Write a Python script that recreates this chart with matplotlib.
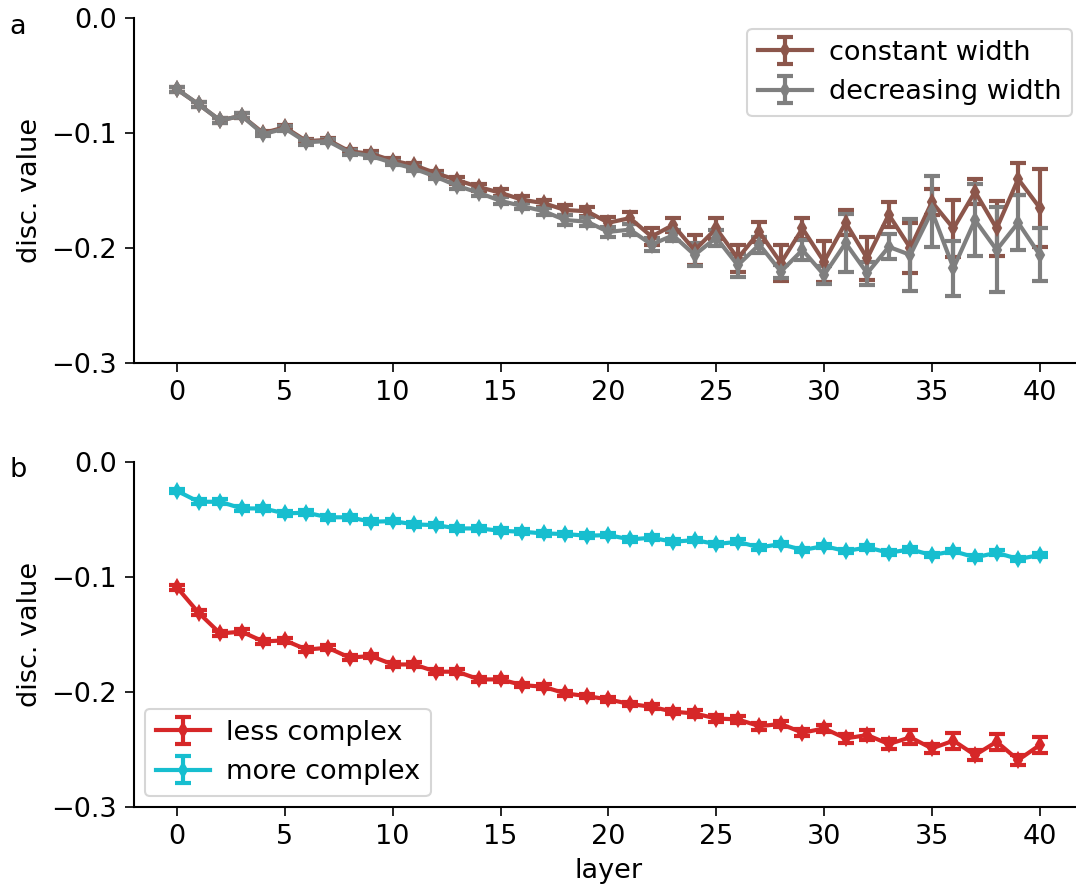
import matplotlib.pyplot as plt
import numpy as np

# layers
layers = np.arange(41)

# panel a
const_width = [-0.062, -0.075, -0.089, -0.085, -0.100, -0.095, -0.107, -0.106, -0.116, -0.118,
               -0.124, -0.128, -0.135, -0.141, -0.147, -0.152, -0.158, -0.161, -0.167, -0.168,
               -0.178, -0.174, -0.190, -0.180, -0.202, -0.183, -0.209, -0.186, -0.213, -0.183,
               -0.212, -0.178, -0.209, -0.171, -0.200, -0.160, -0.183, -0.151, -0.183, -0.140,
               -0.165]
const_err = [0.002, 0.002, 0.002, 0.002, 0.002, 0.002, 0.002, 0.002, 0.002, 0.002,
             0.002, 0.002, 0.002, 0.003, 0.003, 0.003, 0.003, 0.003, 0.004, 0.004,
             0.005, 0.005, 0.007, 0.006, 0.013, 0.009, 0.012, 0.009, 0.016, 0.009,
             0.018, 0.011, 0.019, 0.011, 0.022, 0.011, 0.025, 0.011, 0.024, 0.014,
             0.034]
decr_width = [-0.062, -0.075, -0.089, -0.085, -0.101, -0.096, -0.108, -0.107, -0.117, -0.120,
              -0.126, -0.131, -0.138, -0.146, -0.152, -0.159, -0.1635, -0.168, -0.1757, -0.177,
              -0.186, -0.184, -0.197, -0.189, -0.206, -0.191, -0.215, -0.197, -0.2205, -0.2017,
              -0.2235, -0.1957, -0.222, -0.199, -0.206, -0.168, -0.2175, -0.1757, -0.2017, -0.178,
              -0.206]
decr_err = [0.002, 0.002, 0.002, 0.002, 0.002, 0.002, 0.002, 0.002, 0.002, 0.002,
            0.002, 0.002, 0.002, 0.003, 0.003, 0.003, 0.003, 0.003, 0.004, 0.004,
            0.004, 0.005, 0.006, 0.005, 0.010, 0.007, 0.010, 0.007, 0.006, 0.009,
            0.008, 0.025, 0.010, 0.011, 0.031, 0.031, 0.024, 0.031, 0.037, 0.024,
            0.023]

# panel b
less_complex = [-0.109, -0.131, -0.149, -0.1475, -0.156, -0.155, -0.163, -0.1615, -0.170, -0.1687,
                -0.176, -0.176, -0.1823, -0.1823, -0.189, -0.189, -0.1939, -0.1954, -0.2012, -0.2035,
                -0.2064, -0.2104, -0.2128, -0.2171, -0.2186, -0.223, -0.2238, -0.2296, -0.2278, -0.2354,
                -0.2316, -0.2403, -0.2374, -0.2452, -0.2394, -0.249, -0.2423, -0.2548, -0.2432, -0.2591,
                -0.2461]
less_err = [0.002, 0.002, 0.002, 0.002, 0.002, 0.002, 0.002, 0.002, 0.002, 0.002,
            0.002, 0.002, 0.002, 0.002, 0.002, 0.002, 0.002, 0.002, 0.002, 0.002,
            0.002, 0.002, 0.002, 0.002, 0.003, 0.003, 0.003, 0.003, 0.003, 0.003,
            0.003, 0.004, 0.004, 0.004, 0.006, 0.004, 0.007, 0.004, 0.007, 0.004,
            0.007]
more_complex = [-0.025, -0.0345, -0.0345, -0.0403, -0.0403, -0.0446, -0.044, -0.048, -0.048, -0.0519,
                -0.0513, -0.0542, -0.0548, -0.0577, -0.0577, -0.0597, -0.0606, -0.062, -0.0626, -0.064,
                -0.0635, -0.0672, -0.0658, -0.0693, -0.0678, -0.0713, -0.0693, -0.0742, -0.0713, -0.0765,
                -0.073, -0.0774, -0.0742, -0.0788, -0.0759, -0.0809, -0.0774, -0.0829, -0.0788, -0.0843,
                -0.0809]
more_err = [0.002] * 41

plt.rcParams['font.size'] = 13
plt.rcParams['axes.linewidth'] = 1.0
plt.rcParams['xtick.major.size'] = 4.5
plt.rcParams['ytick.major.size'] = 4.5

fig = plt.figure(figsize=(1076 / 150, 889 / 150))
ax_a = fig.add_axes([0.1244, 0.5917, 0.882, 0.388])
ax_b = fig.add_axes([0.1244, 0.0922, 0.882, 0.388])

style = dict(marker='d', markersize=5, linewidth=2, capsize=4, capthick=2)

ax_a.errorbar(layers, const_width, yerr=const_err, color='tab:brown', label='constant width', **style)
ax_a.errorbar(layers, decr_width, yerr=decr_err, color='tab:gray', label='decreasing width', **style)
ax_a.legend(loc='upper right', borderaxespad=0.4, handletextpad=0.6)

ax_b.errorbar(layers, less_complex, yerr=less_err, color='tab:red', label='less complex', **style)
ax_b.errorbar(layers, more_complex, yerr=more_err, color='tab:cyan', label='more complex', **style)
ax_b.legend(loc='lower left', borderaxespad=0.4, handletextpad=0.6)
ax_b.set_xlabel('layer')

for ax in (ax_a, ax_b):
    ax.set_ylim(-0.3, 0.0)
    ax.set_xlim(-2, 42)
    ax.set_yticks([0.0, -0.1, -0.2, -0.3])
    ax.set_xticks(range(0, 41, 5))
    ax.set_ylabel('disc. value')
    ax.spines['top'].set_visible(False)
    ax.spines['right'].set_visible(False)

fig.text(0.009, 0.962, 'a', fontsize=13)
fig.text(0.009, 0.463, 'b', fontsize=13)

fig.savefig('out.png', dpi=150)
plt.close()
